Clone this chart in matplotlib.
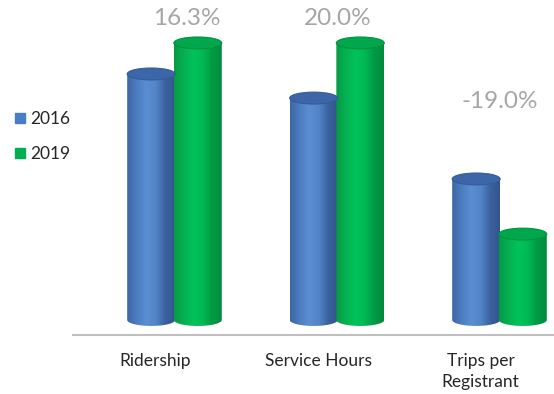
import numpy as np
import matplotlib
matplotlib.use("Agg")
import matplotlib.pyplot as plt
from matplotlib.colors import LinearSegmentedColormap
from matplotlib.patches import Ellipse, PathPatch
from matplotlib.path import Path
from matplotlib.lines import Line2D

plt.rcParams['font.family'] = ['Lato', 'DejaVu Sans']

# index values (Ridership 2019 = 100)
categories = ["Ridership", "Service Hours", "Trips per\nRegistrant"]
values_2016 = [88.8, 80.1, 50.9]
values_2019 = [100.0, 100.0, 31.0]
change_labels = ["16.3%", "20.0%", "-19.0%"]

blue_cmap = LinearSegmentedColormap.from_list(
    "blue_cyl", ["#3d65a4", "#4c7dc0", "#5a8dd2", "#5286c8", "#3b62a0", "#31558c"])
green_cmap = LinearSegmentedColormap.from_list(
    "green_cyl", ["#079a44", "#06b052", "#00c35a", "#00b954", "#009a44", "#008a3c"])
blue_top = "#3c66a8"
green_top = "#00a74c"

fig = plt.figure(figsize=(5.54, 3.94), dpi=100)
ax = fig.add_axes([73 / 554, 59 / 394, 481 / 554, 335 / 394])
ax.set_xlim(-0.628, 2.332)
ax.set_ylim(-5.42, 115.5)

width = 0.295
ell_h = 4.3  # depth of the cylinder caps in data units


def cylinder(xc, h, cmap, top_color):
    x0, x1 = xc - width / 2, xc + width / 2
    t = np.linspace(np.pi, 2 * np.pi, 40)
    bx = xc + width / 2 * np.cos(t)
    by = ell_h / 2 * np.sin(t)
    verts = [(x0, h)] + list(zip(bx, by)) + [(x1, h), (x0, h)]
    codes = [Path.MOVETO] + [Path.LINETO] * (len(verts) - 2) + [Path.CLOSEPOLY]
    body = PathPatch(Path(verts, codes), facecolor="none", edgecolor="none")
    ax.add_patch(body)
    grad = np.linspace(0, 1, 256).reshape(1, -1)
    im = ax.imshow(grad, cmap=cmap, aspect="auto",
                   extent=[x0, x1, -ell_h, h], origin="lower", zorder=2)
    im.set_clip_path(body)
    ax.add_patch(Ellipse((xc, h), width, ell_h, facecolor=top_color,
                         edgecolor=cmap(0.9), linewidth=0.8, zorder=3))


positions = np.arange(len(categories))
for i in positions:
    cylinder(i - 0.147, values_2016[i], blue_cmap, blue_top)
    cylinder(i + 0.14, values_2019[i], green_cmap, green_top)

# percent change above each pair
label_x = [0.07, 0.0, 0.0]
label_y = [109.0, 109.0, 79.0]
for i, txt in enumerate(change_labels):
    ax.text(i + label_x[i], label_y[i], txt, ha="center", va="center",
            fontsize=17.5, color="#a6a6a6")

ax.set_xticks(positions - 0.12)
ax.set_xticklabels(categories)
ax.tick_params(axis="x", length=0, pad=13, labelsize=12.5, labelcolor="#262626")
for lbl in ax.get_xticklabels():
    lbl.set_linespacing(1.4)
ax.set_yticks([])
for side in ["top", "right", "left"]:
    ax.spines[side].set_visible(False)
ax.spines["bottom"].set_color("#bfbfbf")
ax.spines["bottom"].set_linewidth(1.5)

handles = [Line2D([], [], marker="s", linestyle="none", markersize=7,
                  color=c) for c in ["#4a7ec4", "#00b050"]]
fig.legend(handles, ["2016", "2019"], loc="upper left",
           bbox_to_anchor=(-0.008, 1 - 95 / 394), frameon=False,
           fontsize=12.5, labelspacing=1.1, handletextpad=0.1,
           handlelength=1.0, labelcolor="#262626")

fig.savefig("out.png", dpi=100)
